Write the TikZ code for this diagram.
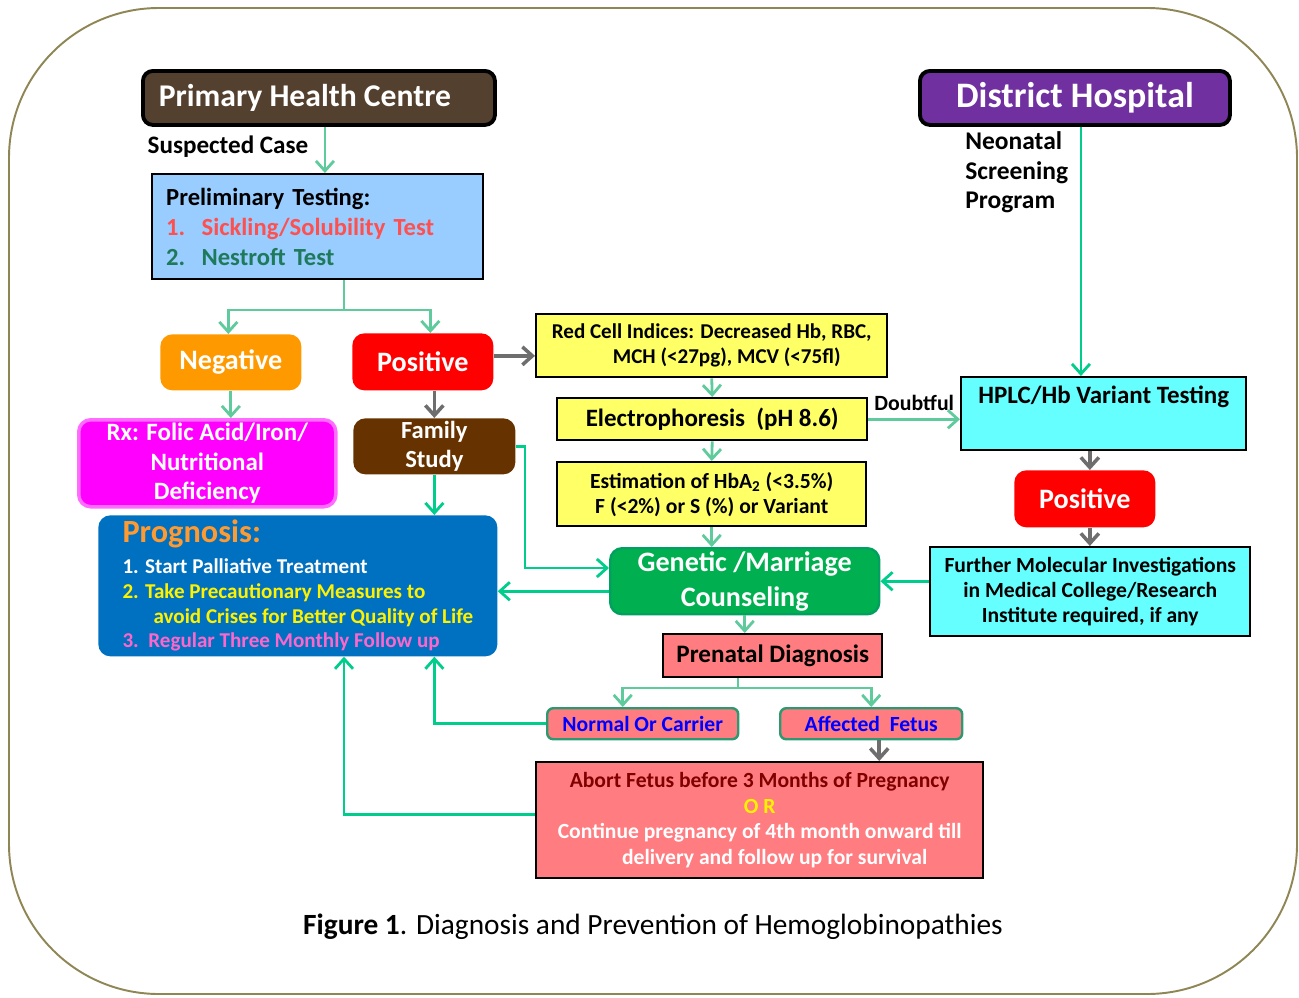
\documentclass[tikz,border=0pt]{standalone}
\usepackage{fontspec}
\setmainfont{Carlito}
\usepackage{tikz}
\usetikzlibrary{positioning, arrows.meta}

\definecolor{frame_olive}{HTML}{8F8655}
\definecolor{phc_brown}{HTML}{54402E}
\definecolor{dh_purple}{HTML}{7030A0}
\definecolor{light_blue}{HTML}{99CCFF}
\definecolor{pale_yellow}{HTML}{FFFF66}
\definecolor{light_cyan}{HTML}{66FFFF}
\definecolor{salmon}{HTML}{FF7C80}
\definecolor{prog_blue}{HTML}{0070C0}
\definecolor{neg_orange}{HTML}{FF9900}
\definecolor{family_brown}{HTML}{663300}
\definecolor{rx_magenta}{HTML}{FF00FF}
\definecolor{rx_border}{HTML}{FF6CFF}
\definecolor{gen_green}{HTML}{00B050}
\definecolor{gen_border}{HTML}{00A060}
\definecolor{soft_green}{HTML}{5FCB9C}
\definecolor{bright_green}{HTML}{00CC8C}
\definecolor{arrow_grey}{HTML}{6E6E6E}
\definecolor{sick_red}{HTML}{FF5050}
\definecolor{nest_green}{HTML}{1E7A5A}
\definecolor{title_orange}{HTML}{FF9A30}
\definecolor{follow_pink}{HTML}{FF66CC}
\definecolor{abort_red}{HTML}{800000}
\definecolor{fetus_border}{HTML}{2E9970}

\begin{document}
\begin{tikzpicture}
    [
        x=0.2mm, y=-0.2mm,
        plain_box/.style={anchor=north west, inner sep=0pt, align=center},
        square_box/.style={plain_box, draw=black, line width=1.4pt},
        round_box/.style={plain_box, rounded corners=2.4mm, text=white},
        title_box/.style={plain_box, draw=black, line width=2.2pt, rounded corners=2mm, text=white},
        fetus_box/.style={plain_box, draw=fetus_border, line width=1.4pt, rounded corners=1.2mm, fill=salmon, text=blue, font=\fontsize{12.3}{14}\selectfont\bfseries},
        plain_text/.style={inner sep=0pt, align=left, text=black, font=\fontsize{14.3}{17}\selectfont\bfseries},
        soft_arrow/.style={-{Straight Barb[length=2mm, width=3.6mm]}, line width=1.6pt, color=soft_green},
        bright_arrow/.style={-{Straight Barb[length=2mm, width=3.6mm]}, line width=1.6pt, color=bright_green},
        grey_arrow/.style={-{Straight Barb[length=2mm, width=3.6mm]}, line width=2pt, color=arrow_grey},
    ]
        \useasboundingbox (0,0) rectangle (1299,997);
        \draw[frame_olive, line width=1.1pt, rounded corners=3cm] (9,8) rectangle (1297,994);

        % top row
        \node[title_box, fill=phc_brown, minimum width=7.04cm, minimum height=1.08cm, font=\fontsize{18}{20}\selectfont\bfseries] (phc) at (141,69) {Primary Health Centre\hspace*{0.56cm}};
        \node[title_box, fill=dh_purple, minimum width=6.2cm, minimum height=1.08cm, font=\fontsize{20.4}{22}\selectfont\bfseries] (dh) at (918,69) {District Hospital};
        \node[plain_text] (suspected) at (228,147) {Suspected Case};
        \node[plain_text, anchor=north west, font=\fontsize{14.5}{17}\selectfont\bfseries] (screening) at (965,131) {Neonatal\\Screening\\Program};

        % left column
        \node[square_box, fill=light_blue, minimum width=6.62cm, minimum height=2.1cm, text width=6.06cm, align=left, font=\fontsize{14}{17}\selectfont\bfseries] (prelim) at (151,173)
            {Preliminary Testing:\\\textcolor{sick_red}{1.\ \ Sickling/Solubility Test}\\\textcolor{nest_green}{2.\ \ Nestroft Test}};
        \node[round_box, fill=neg_orange, minimum width=2.82cm, minimum height=1.12cm, font=\fontsize{16}{18}\selectfont\bfseries] (neg) at (160,334) {Negative};
        \node[round_box, fill=red, minimum width=2.82cm, minimum height=1.14cm, font=\fontsize{16}{18}\selectfont\bfseries] (pos) at (352,333) {Positive};
        \node[round_box, fill=rx_magenta, draw=rx_border, line width=2pt, minimum width=5.14cm, minimum height=1.74cm, font=\fontsize{14.2}{17}\selectfont\bfseries] (rx) at (77,418) {Rx: Folic Acid/Iron/\\Nutritional\\Deficiency};
        \node[round_box, fill=family_brown, minimum width=3.24cm, minimum height=1.12cm, font=\fontsize{14}{17}\selectfont\bfseries] (family) at (353,418) {Family\\Study};
        \node[round_box, fill=prog_blue, minimum width=7.98cm, minimum height=2.82cm, align=left, font=\fontsize{12}{14.2}\selectfont\bfseries] (prog) at (98,515)
            {{\fontsize{18.4}{18.4}\selectfont\textcolor{title_orange}{Prognosis:}}\\[3pt]
             1. Start Palliative Treatment\\
             \textcolor{yellow}{2. Take Precautionary Measures to}\\
             \textcolor{yellow}{\hspace*{0.62cm}avoid Crises for Better Quality of Life}\\
             \textcolor{follow_pink}{3.\ \ Regular Three Monthly Follow up}};

        % middle column
        \node[square_box, fill=pale_yellow, minimum width=7.02cm, minimum height=1.26cm, font=\fontsize{12}{14.2}\selectfont\bfseries] (redcell) at (535,313) {Red Cell Indices: Decreased Hb, RBC,\\\hspace*{0.6cm}MCH (<27pg), MCV (<75fl)};
        \node[square_box, fill=pale_yellow, minimum width=6.2cm, minimum height=0.84cm, font=\fontsize{14.2}{16}\selectfont\bfseries] (electro) at (556,397) {Electrophoresis\ \ (pH 8.6)};
        \node[square_box, fill=pale_yellow, minimum width=6.18cm, minimum height=1.28cm, font=\fontsize{12.3}{14.2}\selectfont\bfseries] (estim) at (556,461) {Estimation of HbA\textsubscript{2} (<3.5\%)\\F (<2\%) or S (\%) or Variant};
        \node[round_box, fill=gen_green, draw=gen_border, line width=1.4pt, minimum width=5.38cm, minimum height=1.32cm, font=\fontsize{16}{20}\selectfont\bfseries] (genetic) at (609,547) {Genetic /Marriage\\Counseling};
        \node[square_box, fill=salmon, minimum width=4.38cm, minimum height=0.86cm, font=\fontsize{14.3}{16}\selectfont\bfseries] (prenatal) at (662,633) {Prenatal Diagnosis};
        \node[fetus_box, minimum width=3.82cm, minimum height=0.62cm] (normal) at (546,707) {Normal Or Carrier};
        \node[fetus_box, minimum width=3.64cm, minimum height=0.62cm] (affected) at (779,707) {Affected\ \ Fetus};
        \node[square_box, fill=salmon, minimum width=8.94cm, minimum height=2.32cm, font=\fontsize{12.3}{14.6}\selectfont\bfseries] (abort) at (535,761)
            {\textcolor{abort_red}{Abort Fetus before 3 Months of Pregnancy}\\
             \textcolor{yellow}{O R}\\
             \textcolor{white}{Continue pregnancy of 4th month onward till}\\
             \textcolor{white}{\hspace*{0.6cm}delivery and follow up for survival}};

        % right column
        \node[square_box, fill=light_cyan, minimum width=5.7cm, minimum height=1.46cm, font=\fontsize{14.2}{17}\selectfont\bfseries] (hplc) at (960,376) {HPLC/Hb Variant Testing\\\strut};
        \node[round_box, fill=red, minimum width=2.82cm, minimum height=1.14cm, font=\fontsize{16}{18}\selectfont\bfseries] (pos_two) at (1014,470) {Positive};
        \node[square_box, fill=light_cyan, minimum width=6.4cm, minimum height=1.78cm, font=\fontsize{12.3}{14.2}\selectfont\bfseries] (further) at (929,546) {Further Molecular Investigations\\in Medical College/Research\\Institute required, if any};

        \node[font=\fontsize{16.7}{19}\selectfont] (caption) at (653,927) {\textbf{Figure 1}. Diagnosis and Prevention of Hemoglobinopathies};

        \coordinate (split) at (344,310);
        \coordinate (pre_split) at (738,688);
        \coordinate (fam_turn) at (525,568);

        % connectors
        \draw[soft_arrow] ([xshift=1.2mm]phc.south) -- ([xshift=1.2mm]phc.south |- prelim.north);
        \draw[soft_arrow, -] (prelim.south -| split) -- (split);
        \draw[soft_arrow] (split) -| ([xshift=-0.5mm]neg.north);
        \draw[soft_arrow] (split) -| ([xshift=1.5mm]pos.north);
        \draw[soft_arrow] (neg.south) -- (neg.south |- rx.north);
        \draw[grey_arrow] ([yshift=1.2mm]pos.east) -- ([yshift=1.2mm]pos.east -| redcell.west);
        \draw[grey_arrow] (family.north |- pos.south) -- (family.north);
        \draw[bright_arrow] (family.south) -- (family.south |- prog.north);
        \draw[bright_arrow] (family.east) -| (fam_turn) -- (fam_turn -| genetic.west);
        \draw[soft_arrow] (redcell.south) -- (electro.north);
        \draw[soft_arrow] (electro.south) -- (estim.north);
        \draw[soft_arrow] (estim.south) -- (estim.south |- genetic.north);
        \draw[soft_arrow] (electro.east) -- node[plain_text, above=1.4mm, font=\fontsize{12.4}{14}\selectfont\bfseries] (doubtful) {Doubtful} (electro.east -| hplc.west);
        \draw[bright_arrow] ([xshift=1.2mm]dh.south) -- ([xshift=1.2mm]dh.south |- hplc.north);
        \draw[grey_arrow] ([xshift=1mm]pos_two.north |- hplc.south) -- ([xshift=1mm]pos_two.north);
        \draw[grey_arrow] ([xshift=1mm]pos_two.south) -- ([xshift=1mm]pos_two.south |- further.north);
        \draw[bright_arrow] (further.west |- genetic.east) -- (genetic.east);
        \draw[bright_arrow] ([yshift=-2mm]genetic.west) -- ([yshift=-2mm]genetic.west -| prog.east);
        \draw[soft_arrow] (genetic.south) -- (genetic.south |- prenatal.north);
        \draw[soft_arrow, -] (prenatal.south -| pre_split) -- (pre_split);
        \draw[soft_arrow] (pre_split) -| ([xshift=-4mm]normal.north);
        \draw[soft_arrow] (pre_split) -| (affected.north);
        \draw[grey_arrow] ([xshift=1.6mm]affected.south) -- ([xshift=1.6mm]affected.south |- abort.north);
        \draw[bright_arrow] (normal.west) -| (family.south |- prog.south);
        \draw[bright_arrow] ([yshift=1.2mm]abort.west) -| (split |- prog.south);
    \end{tikzpicture}
\end{document}
